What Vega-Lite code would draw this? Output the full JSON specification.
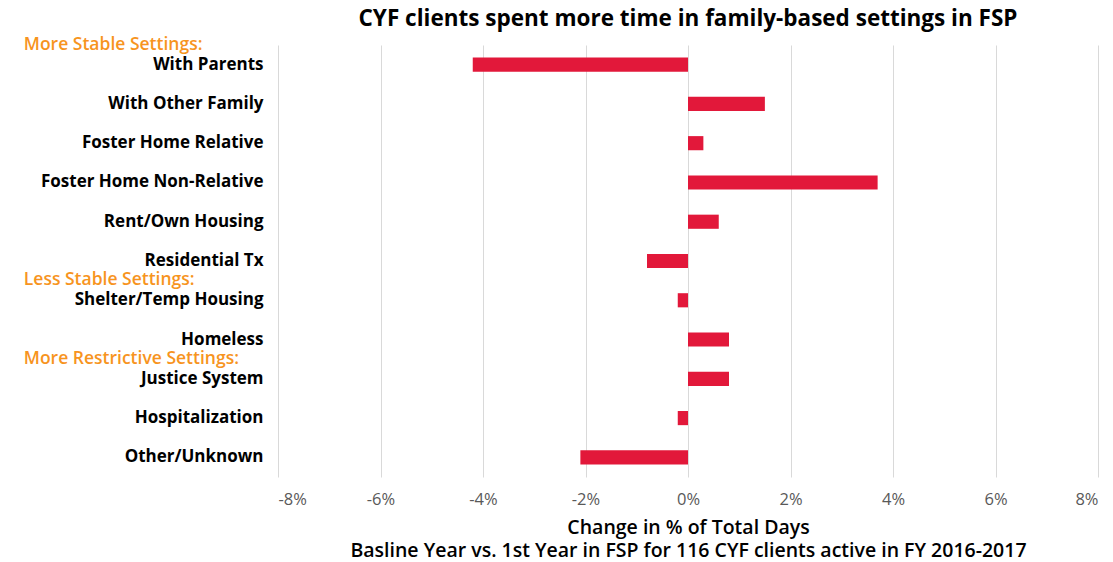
{
  "$schema": "https://vega.github.io/schema/vega-lite/v6.json",
  "width": 820,
  "height": 432,
  "autosize": "none",
  "padding": {"left": 278, "top": 45, "right": 15, "bottom": 85},
  "background": "white",
  "config": {"view": {"stroke": null}, "font": "Open Sans"},
  "title": {
    "text": "CYF clients spent more time in family-based settings in FSP",
    "font": "Open Sans",
    "fontSize": 22.5,
    "fontWeight": "bold",
    "color": "#000000",
    "anchor": "middle",
    "offset": 5
  },
  "datasets": {
    "bars": [
      {"setting": "With Parents", "change": -4.2},
      {"setting": "With Other Family", "change": 1.5},
      {"setting": "Foster Home Relative", "change": 0.3},
      {"setting": "Foster Home Non-Relative", "change": 3.7},
      {"setting": "Rent/Own Housing", "change": 0.6},
      {"setting": "Residential Tx", "change": -0.8},
      {"setting": "Shelter/Temp Housing", "change": -0.2},
      {"setting": "Homeless", "change": 0.8},
      {"setting": "Justice System", "change": 0.8},
      {"setting": "Hospitalization", "change": -0.2},
      {"setting": "Other/Unknown", "change": -2.1}
    ],
    "groups": [
      {"setting": "With Parents", "group": "More Stable Settings:"},
      {"setting": "Shelter/Temp Housing", "group": "Less Stable Settings:"},
      {"setting": "Justice System", "group": "More Restrictive Settings:"}
    ]
  },
  "encoding": {
    "y": {
      "field": "setting",
      "type": "nominal",
      "scale": {
        "domain": ["With Parents", "With Other Family", "Foster Home Relative", "Foster Home Non-Relative", "Rent/Own Housing", "Residential Tx", "Shelter/Temp Housing", "Homeless", "Justice System", "Hospitalization", "Other/Unknown"],
        "paddingInner": 0.64,
        "paddingOuter": 0.32
      },
      "axis": {
        "title": null,
        "domain": false,
        "ticks": false,
        "labelPadding": 15,
        "labelFont": "Open Sans",
        "labelFontSize": 17,
        "labelFontWeight": "bold",
        "labelColor": "#000000",
        "labelLimit": 400
      }
    }
  },
  "layer": [
    {
      "data": {"name": "bars"},
      "mark": {"type": "bar", "color": "#E2183A"},
      "encoding": {
        "x": {
          "field": "change",
          "type": "quantitative",
          "scale": {"domain": [-8, 8], "nice": false, "zero": false},
          "axis": {
            "values": [-8, -6, -4, -2, 0, 2, 4, 6, 8],
            "labelExpr": "datum.value + '%'",
            "domain": false,
            "ticks": false,
            "grid": true,
            "gridColor": "#D9D9D9",
            "gridWidth": 1,
            "labelPadding": 14,
            "labelFont": "Open Sans",
            "labelFontSize": 16.5,
            "labelColor": "#595959",
            "title": ["Change in % of Total Days", "Basline Year vs. 1st Year in FSP for 116 CYF clients active in FY 2016-2017"],
            "titleFont": "Open Sans",
            "titleFontSize": 19.5,
            "titleFontWeight": 600,
            "titleColor": "#000000",
            "titleLineHeight": 23,
            "titlePadding": 11
          }
        }
      }
    },
    {
      "data": {"name": "groups"},
      "mark": {"type": "text", "align": "left", "baseline": "middle", "dy": -20, "font": "Open Sans", "fontSize": 17.5, "fontWeight": 600, "color": "#F7941E", "clip": false},
      "encoding": {
        "x": {"datum": -12.96, "type": "quantitative"},
        "text": {"field": "group"}
      }
    }
  ]
}
